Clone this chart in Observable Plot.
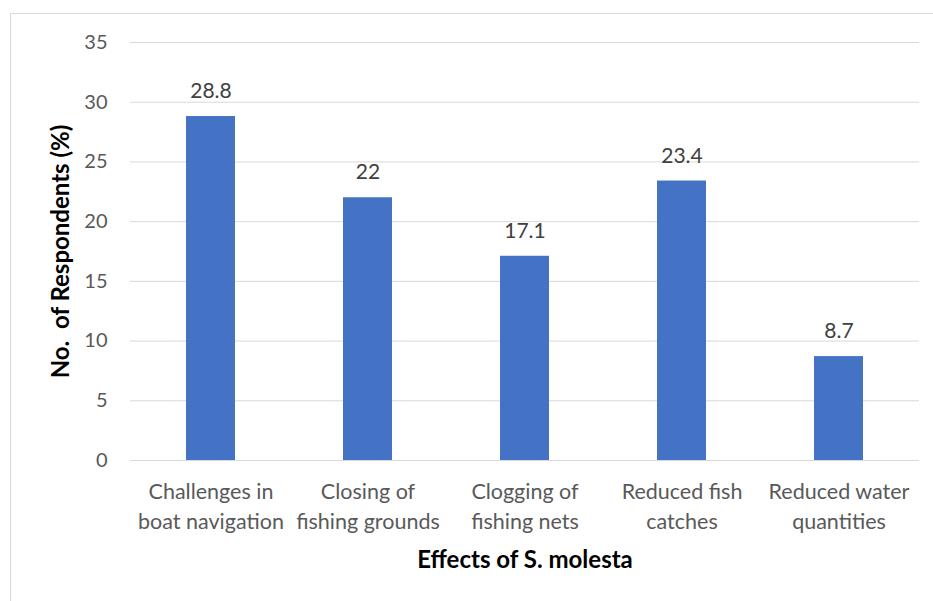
<!DOCTYPE html>
<html>
<head>
<meta charset="utf-8">
<script src="https://cdn.jsdelivr.net/npm/d3@7"></script>
<script src="https://cdn.jsdelivr.net/npm/@observablehq/plot@0.6"></script>
<style>
  html, body { margin: 0; padding: 0; background: #fff; }
  #wrap { position: relative; width: 933px; height: 601px; overflow: hidden; }
  #border { position: absolute; left: 10px; top: 13px; width: 940px; height: 600px; border: 1px solid #d9d9d9; box-sizing: border-box; }
  #chart { position: absolute; left: 0; top: 0; }
</style>
</head>
<body>
<div id="wrap"><div id="border"></div><div id="chart"></div></div>
<script>
const categories = ["Challenges in boat navigation", "Closing of fishing grounds", "Clogging of fishing nets", "Reduced fish catches", "Reduced water quantities"];
const tickLabels = ["Challenges in\nboat navigation", "Closing of\nfishing grounds", "Clogging of\nfishing nets", "Reduced fish\ncatches", "Reduced water\nquantities"];
const values = [28.8, 22, 17.1, 23.4, 8.7];
const valueLabels = ["28.8", "22", "17.1", "23.4", "8.7"];
const yTicks = [0, 5, 10, 15, 20, 25, 30, 35];
const xTitle = "Effects of S. molesta";
const yTitle = "No.  of Respondents (%)";

const data = categories.map((c, i) => ({cat: c, value: values[i], label: valueLabels[i]}));
const labelOf = new Map(categories.map((c, i) => [c, tickLabels[i]]));

const FONT = "Lato, 'Open Sans', sans-serif";

const chart = Plot.plot({
  width: 933,
  height: 601,
  marginTop: 42,
  marginBottom: 141,
  marginLeft: 130,
  marginRight: 14,
  style: {fontFamily: FONT, background: "transparent", overflow: "visible"},
  x: {domain: categories, paddingInner: 0.686, paddingOuter: 0.343},
  y: {domain: [0, 35]},
  marks: [
    Plot.gridY(yTicks, {stroke: "#d9d9d9", strokeOpacity: 1, strokeWidth: 1}),
    Plot.barY(data, {x: "cat", y: "value", fill: "#4472c4"}),
    Plot.axisY(yTicks, {tickSize: 0, tickPadding: 23, fontSize: 20, fill: "#595959", label: null}),
    Plot.axisX({tickSize: 0, tickPadding: 18, fontSize: 21.5, fill: "#595959", lineHeight: 1.36, label: null, tickFormat: d => labelOf.get(d)}),
    Plot.text(data, {x: "cat", y: "value", text: "label", dy: -25, fontSize: 21, fill: "#404040"}),
    Plot.text([yTitle], {frameAnchor: "left", dx: -69, rotate: -90, textAnchor: "middle", text: d => d, fontSize: 24, fontWeight: "bold", fill: "#000"}),
    Plot.text([xTitle], {frameAnchor: "bottom", dy: 107, text: d => d, fontSize: 24, fontWeight: "bold", fill: "#000"})
  ]
});
document.getElementById("chart").appendChild(chart);
</script>
</body>
</html>
